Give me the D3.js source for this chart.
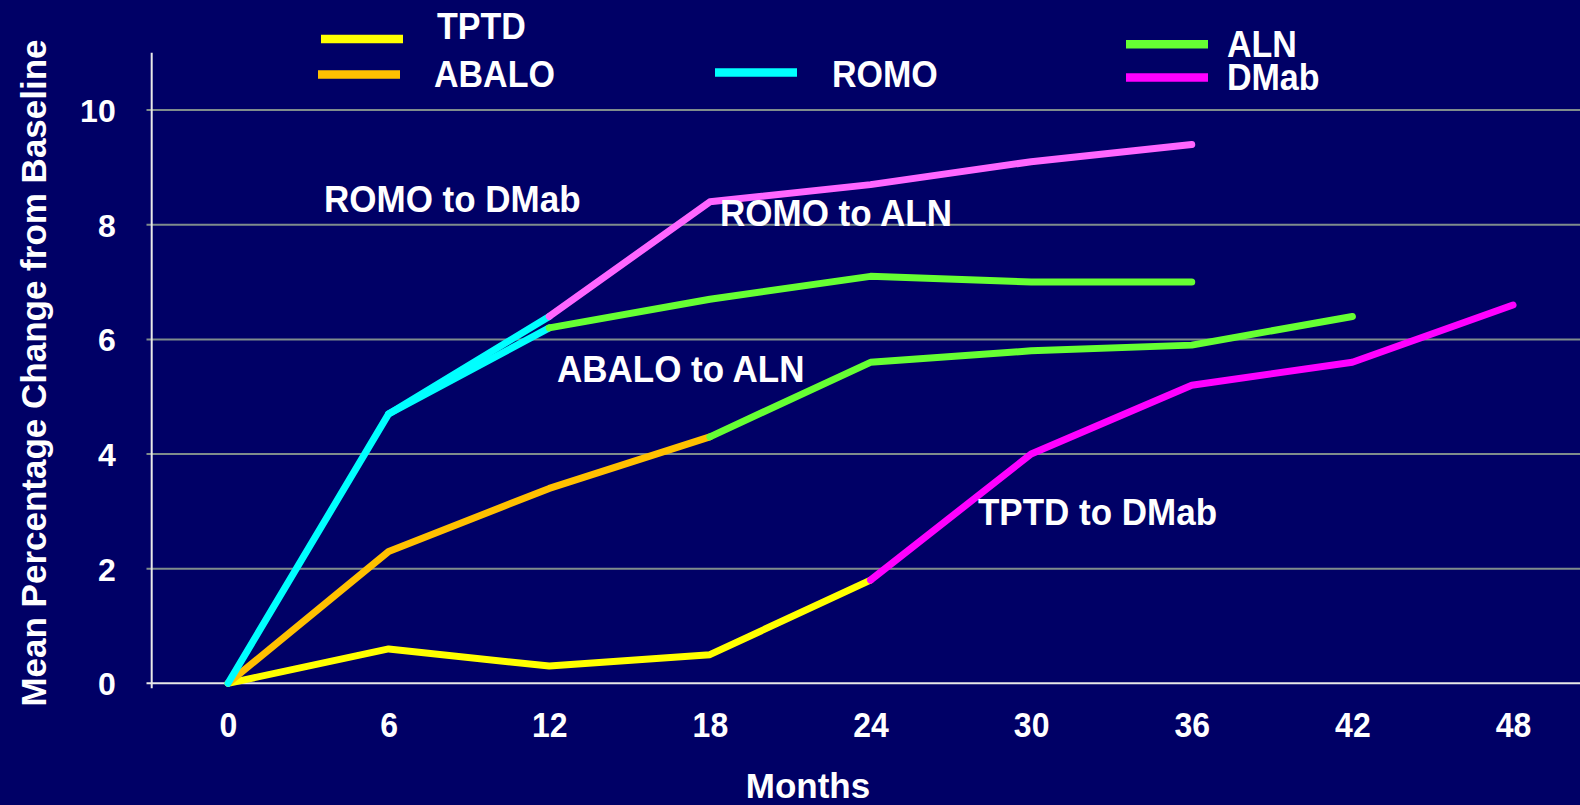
<!DOCTYPE html>
<html>
<head>
<meta charset="utf-8">
<script src="https://cdn.jsdelivr.net/npm/d3@7"></script>
<style>
  html, body { margin: 0; padding: 0; background: #000066; }
  .stage { width: 1580px; height: 805px; overflow: hidden; }
  text { font-family: "Liberation Sans", Arial, sans-serif; font-weight: bold; fill: #ffffff; }
</style>
</head>
<body>
<div class="stage"></div>
<script>
// chart data: [month, mean % change from baseline]
var months = [0, 6, 12, 18, 24, 30, 36, 42, 48];
var yTicks = [0, 2, 4, 6, 8, 10];

var tptd      = [[0, 0], [6, 0.6], [12, 0.3], [18, 0.5], [24, 1.8]];
var tptdDmab  = [[24, 1.8], [30, 4.0], [36, 5.2], [42, 5.6], [48, 6.6]];
var abalo     = [[0, 0], [6, 2.3], [12, 3.4], [18, 4.3]];
var abaloAln  = [[18, 4.3], [24, 5.6], [30, 5.8], [36, 5.9], [42, 6.4]];
var romoA     = [[0, 0], [6, 4.7], [12, 6.4]];
var romoADmab = [[12, 6.4], [18, 8.4], [24, 8.7], [30, 9.1], [36, 9.4]];
var romoB     = [[6, 4.7], [12, 6.2]];
var romoBAln  = [[12, 6.2], [18, 6.7], [24, 7.1], [30, 7.0], [36, 7.0]];

var legendLabels = ['TPTD', 'ABALO', 'ROMO', 'ALN', 'DMab'];
var noteLabels = ['ROMO to DMab', 'ROMO to ALN', 'ABALO to ALN', 'TPTD to DMab'];

// Our stage:
var width = 1580;
var height = 805;

var svg = d3.select('.stage')
            .append('svg')
            .attr('width', width)
            .attr('height', height)
            .style('background', '#000066');

var x = d3.scaleLinear().domain([0, 48]).range([228, 1513]);
var y = d3.scaleLinear().domain([0, 11]).range([683.3, 52.8]);

// GRID lines
svg.selectAll('.grid')
  .data(yTicks.filter(function(d){ return d > 0; }))
  .enter()
  .append('line')
  .attr('class', 'grid')
  .attr('x1', 146.5)
  .attr('x2', width)
  .attr('y1', function(d){ return y(d); })
  .attr('y2', function(d){ return y(d); })
  .attr('stroke', '#7f8c8c')
  .attr('stroke-width', 2);

// Y AXIS
var yAxis = d3.axisLeft(y).tickValues(yTicks).tickSize(0).tickPadding(36);
var yg = svg.append('g').attr('transform', 'translate(151.7,0)').call(yAxis);
yg.select('.domain').remove();
yg.selectAll('text')
  .style('font-size', '32px')
  .attr('fill', '#ffffff')
  .attr('dy', '0.36em');
svg.append('line')
  .attr('x1', 151.7).attr('x2', 151.7)
  .attr('y1', y(11)).attr('y2', y(0) + 5)
  .attr('stroke', '#e8e8e8')
  .attr('stroke-width', 2);

// X AXIS (labels a bit taller than wide, like the original)
var xAxis = d3.axisBottom(x).tickValues(months).tickSize(0).tickPadding(0);
var xg = svg.append('g').attr('transform', 'translate(0,' + y(0) + ')').call(xAxis);
xg.select('.domain').remove();
xg.selectAll('text')
  .style('font-size', '32px')
  .attr('fill', '#ffffff')
  .attr('dy', null)
  .attr('y', 0)
  .attr('transform', 'translate(0,54) scale(1,1.12)');
svg.append('line')
  .attr('x1', 146.5).attr('x2', width)
  .attr('y1', y(0)).attr('y2', y(0))
  .attr('stroke', '#e8e8e8')
  .attr('stroke-width', 2);

// AXIS titles
svg.append('text')
  .attr('transform', 'translate(46,373) rotate(-90)')
  .attr('text-anchor', 'middle')
  .style('font-size', '35px')
  .text('Mean Percentage Change from Baseline');

svg.append('text')
  .attr('x', 808)
  .attr('y', 798)
  .attr('text-anchor', 'middle')
  .style('font-size', '35px')
  .text('Months');

// LINES
var line = d3.line()
  .x(function(d){ return x(d[0]); })
  .y(function(d){ return y(d[1]); });

var series = [
  [tptd, '#ffff00'],
  [abalo, '#ffc000'],
  [romoA, '#00ffff'],
  [romoB, '#00ffff'],
  [romoBAln, '#66ff33'],
  [abaloAln, '#66ff33'],
  [romoADmab, '#ff66ff'],
  [tptdDmab, '#ff00ff']
];

svg.selectAll('.series')
  .data(series)
  .enter()
  .append('path')
  .attr('class', 'series')
  .attr('d', function(d){ return line(d[0]); })
  .attr('fill', 'none')
  .attr('stroke', function(d){ return d[1]; })
  .attr('stroke-width', 7)
  .attr('stroke-linejoin', 'round')
  .attr('stroke-linecap', 'round');

// LEGEND
var legendX1 = [321, 318, 715, 1126, 1126];
var legendY = [39, 74.5, 72.5, 44.3, 77.5];
var legendTextX = [437, 434, 832, 1227, 1227];
var legendTextY = [39, 87, 87, 57, 90];
var legendColors = ['#ffff00', '#ffc000', '#00ffff', '#66ff33', '#ff00ff'];

svg.selectAll('.legend-line')
  .data(legendLabels)
  .enter()
  .append('line')
  .attr('class', 'legend-line')
  .attr('x1', function(d, i){ return legendX1[i]; })
  .attr('x2', function(d, i){ return legendX1[i] + 82; })
  .attr('y1', function(d, i){ return legendY[i]; })
  .attr('y2', function(d, i){ return legendY[i]; })
  .attr('stroke', function(d, i){ return legendColors[i]; })
  .attr('stroke-width', 8.5);

svg.selectAll('.legend-text')
  .data(legendLabels)
  .enter()
  .append('text')
  .attr('class', 'legend-text')
  .attr('transform', function(d, i){
    return 'translate(' + legendTextX[i] + ',' + legendTextY[i] + ') scale(1,1.07)';
  })
  .style('font-size', '34px')
  .text(function(d){ return d; });

// NOTES on the lines
var noteX = [324, 720, 557, 978];
var noteY = [212, 226, 382, 525];

svg.selectAll('.note')
  .data(noteLabels)
  .enter()
  .append('text')
  .attr('class', 'note')
  .attr('transform', function(d, i){
    return 'translate(' + noteX[i] + ',' + noteY[i] + ') scale(1,1.05)';
  })
  .style('font-size', '35px')
  .text(function(d){ return d; });
</script>
</body>
</html>
